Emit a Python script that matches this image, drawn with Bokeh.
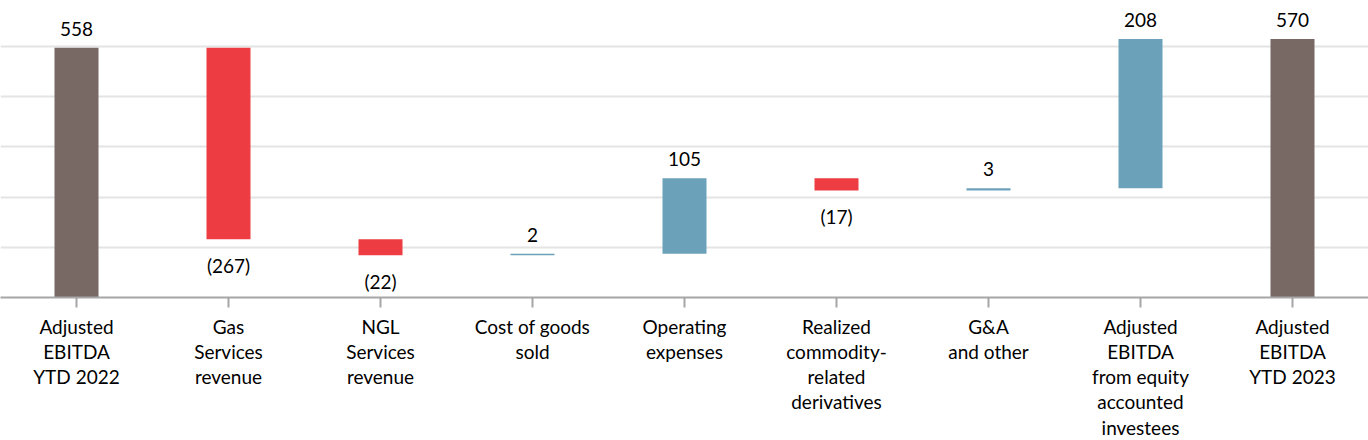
import numpy as np
from bokeh.plotting import figure
from bokeh.models import Range1d, FixedTicker, ColumnDataSource
from bokeh.embed import file_html
from bokeh.resources import INLINE
from bokeh.core.properties import value

# ---- data ----
categories = [
    "Adjusted\nEBITDA\nYTD 2022",
    "Gas\nServices\nrevenue",
    "NGL\nServices\nrevenue",
    "Cost of goods\nsold",
    "Operating\nexpenses",
    "Realized\ncommodity-\nrelated\nderivatives",
    "G&A\nand other",
    "Adjusted\nEBITDA\nfrom equity\naccounted\ninvestees",
    "Adjusted\nEBITDA\nYTD 2023",
]
start_value = 558
changes = [-267, -22, 2, 105, -17, 3, 208]
end_value = 570
value_labels = ["558", "(267)", "(22)", "2", "105", "(17)", "3", "208", "570"]

# ---- styling / layout ----
C_TOTAL = "#786964"
C_NEG = "#EE3D42"
C_POS = "#6BA2BA"
FONT = "Lato"
FRAME_W = 1368
FRAME_H = 297
BOTTOM_H = 143
Y_START = 210.0
PX_PER_UNIT = 0.718
Y_END = Y_START + FRAME_H / PX_PER_UNIT
GAP_UP_PX = 19
GAP_DOWN_PX = 26

# ---- waterfall computation ----
n = len(categories)
xs = list(range(1, n + 1))
bottoms, tops, colors, label_y = [], [], [], []
bottoms.append(0); tops.append(start_value); colors.append(C_TOTAL)
label_y.append(start_value + GAP_UP_PX / PX_PER_UNIT)
running = start_value
for c in changes:
    lo, hi = min(running, running + c), max(running, running + c)
    bottoms.append(lo); tops.append(hi)
    if c < 0:
        colors.append(C_NEG)
        label_y.append(lo - GAP_DOWN_PX / PX_PER_UNIT)
    else:
        colors.append(C_POS)
        label_y.append(hi + GAP_UP_PX / PX_PER_UNIT)
    running += c
bottoms.append(0); tops.append(end_value); colors.append(C_TOTAL)
label_y.append(end_value + GAP_UP_PX / PX_PER_UNIT)

src = ColumnDataSource(dict(x=xs, bottom=bottoms, top=tops, color=colors,
                            ly=label_y, label=value_labels))

x_start = 1 - 76 / 152
x_end = x_start + FRAME_W / 152

p = figure(frame_width=FRAME_W, frame_height=FRAME_H,
           output_backend="svg", toolbar_location=None,
           x_range=Range1d(x_start, x_end), y_range=Range1d(Y_START, Y_END),
           min_border_left=0, min_border_right=0, min_border_top=0,
           min_border_bottom=BOTTOM_H)
p.outline_line_color = None
p.background_fill_color = "white"

p.vbar(x="x", bottom="bottom", top="top", width=44 / 152, color="color",
       line_color=None, source=src)
p.text(x="x", y="ly", text="label", source=src, text_align="center",
       text_baseline="middle", text_font=value(FONT), text_font_size="19px",
       text_color="#000000")

grid_ticks = [Y_START + k * 50.2 / PX_PER_UNIT for k in range(1, 6)]
p.yaxis.visible = False
p.ygrid.ticker = FixedTicker(ticks=grid_ticks)
p.ygrid.grid_line_color = "#E4E4E4"
p.ygrid.grid_line_width = 2
p.xgrid.visible = False

ax = p.xaxis[0]
ax.ticker = FixedTicker(ticks=xs)
ax.major_label_overrides = {x: lab for x, lab in zip(xs, categories)}
ax.axis_line_color = "#A6A6A6"
ax.axis_line_width = 2
ax.major_tick_line_color = "#A6A6A6"
ax.major_tick_line_width = 2
ax.major_tick_out = 10
ax.major_tick_in = 0
ax.minor_tick_line_color = None
ax.major_label_standoff = 7
ax.major_label_text_font = FONT
ax.major_label_text_font_size = "19px"
ax.major_label_text_color = "#000000"
ax.major_label_text_line_height = 1.1

open("out.html", "w").write(file_html(p, INLINE))
